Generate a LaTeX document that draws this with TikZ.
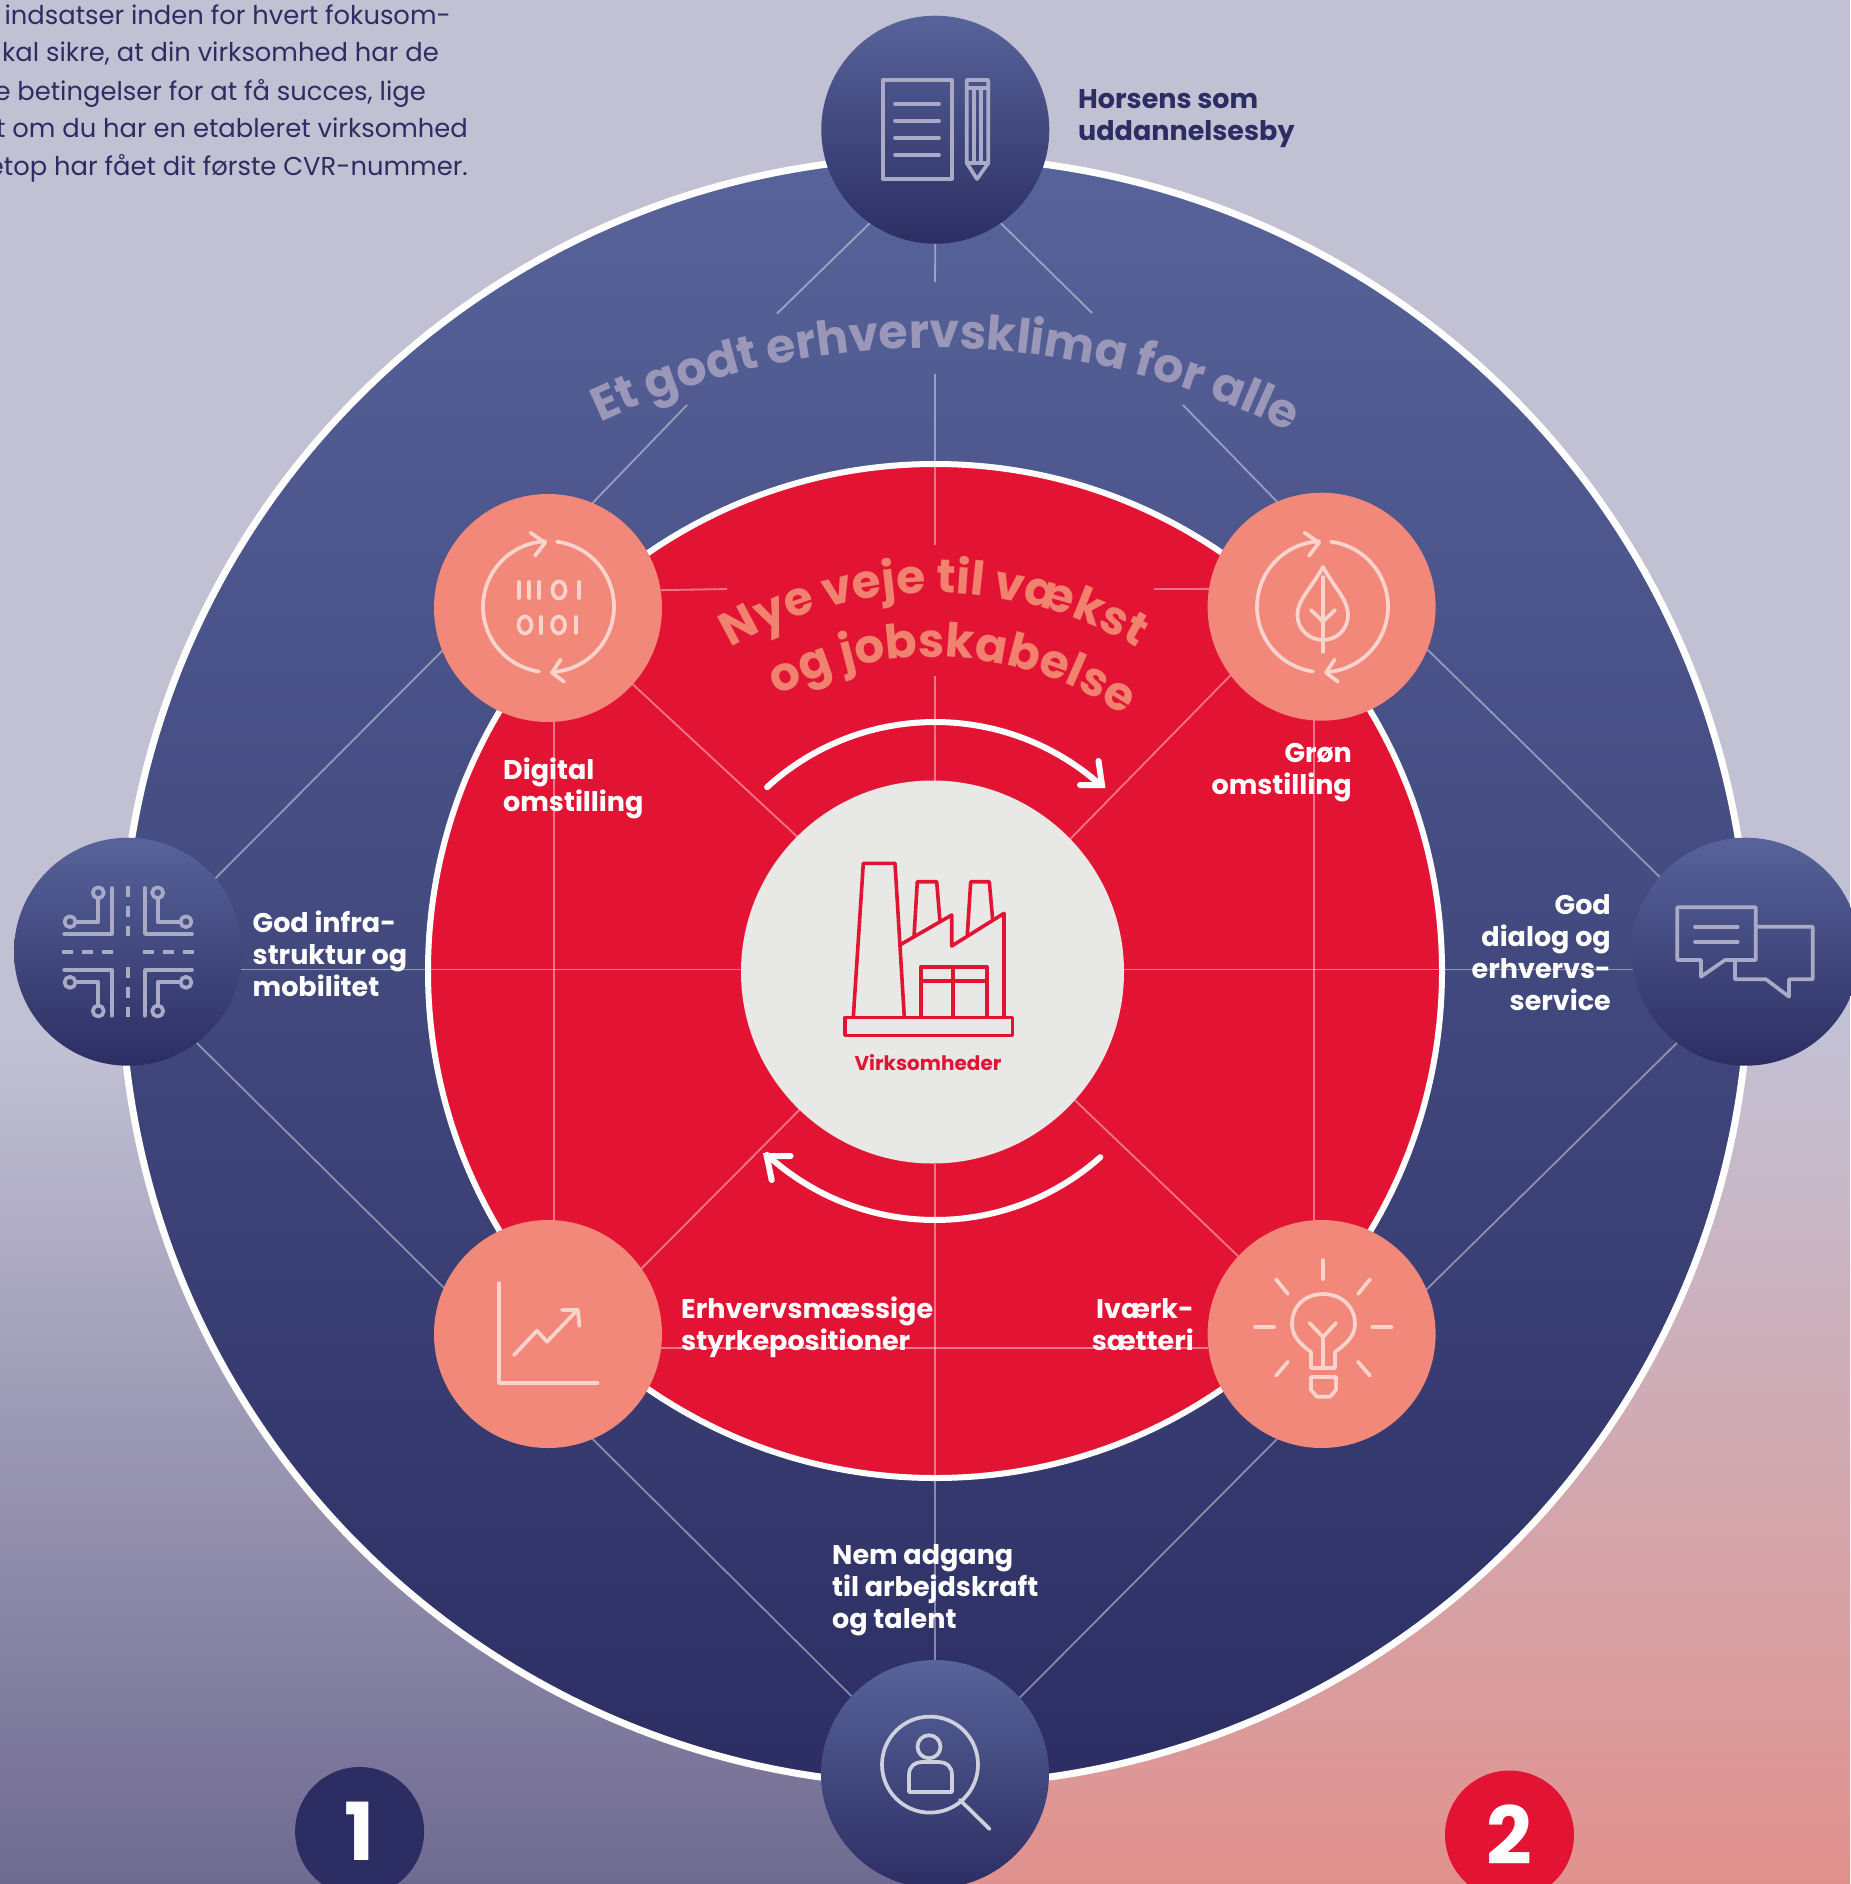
\documentclass[tikz,border=0pt]{standalone}
\usepackage{fontspec}
\setmainfont{Poppins}
\usetikzlibrary{decorations.text}
\definecolor{hubT}{HTML}{57639A}
\definecolor{hubB}{HTML}{2C2E63}
\definecolor{bgTop}{HTML}{C2C0D3}
\definecolor{bgLeft}{HTML}{6F6A90}
\definecolor{bgRight}{HTML}{E1918D}
\definecolor{coreRed}{HTML}{E31433}
\definecolor{salmon}{HTML}{F28879}
\definecolor{coreGrey}{HTML}{E8E8E6}
\definecolor{navyText}{HTML}{2C2E63}
\definecolor{titleA}{HTML}{9B97B8}
\definecolor{titleB}{HTML}{F1826F}
\definecolor{iconHub}{HTML}{A9ABC6}
\definecolor{iconSalmon}{HTML}{FAD3CC}
\definecolor{iconLens}{HTML}{CFD0DE}
\newcommand{\labfont}{\bfseries\fontsize{27}{32}\selectfont}
\newcommand{\bodyfont}{\fontsize{25.8}{37.5}\selectfont}
\pgfdeclarelayer{under}
\pgfsetlayers{under,main}
\tikzset{
  x=1pt,y=-1pt,
  hub/.style={circle,minimum size=228pt,inner sep=0pt,outer sep=0pt,top color=hubT,bottom color=hubB},
  peach/.style={circle,minimum size=228pt,inner sep=0pt,outer sep=0pt,fill=salmon},
  numdisc/.style={circle,minimum size=129pt,inner sep=0pt,outer sep=0pt,text=white,font=\bfseries\fontsize{80}{80}\selectfont},
  spoke/.style={draw=white,draw opacity=.42,line width=1.8pt},
  lableft/.style={anchor=base west,align=left,inner sep=0pt,text=white,font=\labfont},
  labright/.style={anchor=base east,align=right,inner sep=0pt,text=white,font=\labfont},
  bodyline/.style={anchor=base east,inner sep=0pt,text=navyText,font=\bodyfont},
  flow/.style={draw=white,line width=6pt,line cap=round,line join=miter},
  iconA/.style={draw=iconHub,line width=3.7pt,line join=round,line cap=round},
  iconB/.style={draw=iconSalmon,line width=3.7pt,line join=round,line cap=round},
  iconC/.style={draw=iconLens,line width=3.7pt,line join=round,line cap=round},
  iconF/.style={draw=coreRed,line width=3.6pt,line join=round,line cap=round},
}
\newcommand{\looparrows}{%
  \draw[iconB] (0,0) ++(261.6:65.5pt) arc[start angle=261.6,end angle=93,radius=65.5pt];
  \draw[iconB] (0,0) ++(82.5:65.5pt) arc[start angle=82.5,end angle=-87,radius=65.5pt];
  \draw[iconB] (-18,-74) -- (-3.5,-64) -- (-13.5,-51);
  \draw[iconB] (15.5,75) -- (3.5,66) -- (12,53);
}
\begin{document}
\begin{tikzpicture}
\useasboundingbox (0,0) rectangle (1850,1884);
\begin{pgfonlayer}{under}
  % background
  \fill[bgTop] (0,0) rectangle (1850,1041);
  \shade[top color=bgTop,bottom color=bgLeft] (0,1040) rectangle (936,1884);
  \shade[top color=bgTop,bottom color=bgRight] (935,1040) rectangle (1850,1884);
  % discs
  \node[circle,minimum size=1628pt,inner sep=0pt,outer sep=0pt,top color=hubT,bottom color=hubB,draw=white,line width=7pt] (outer) at (935,971) {};
  \node[circle,minimum size=1014pt,inner sep=0pt,outer sep=0pt,fill=coreRed,draw=white,line width=6pt] (inner) at (935,971) {};
\end{pgfonlayer}

% hubs
\node[hub] (hubTop) at (935.3,129.7) {};
\node[hub] (hubLeft) at (128,951.7) {};
\node[hub] (hubRight) at (1745.7,951.7) {};
\node[hub] (hubBottom) at (935,1774) {};
% peach discs
\node[peach] (dig) at (548,608) {};
\node[peach] (grn) at (1321.6,606.7) {};
\node[peach] (vek) at (548,1334) {};
\node[peach] (ivk) at (1321.6,1334) {};
% centre
\node[circle,minimum size=383pt,inner sep=0pt,outer sep=0pt,fill=coreGrey] (centre) at (932.5,972) {};

\begin{pgfonlayer}{under}
  % free ends of the web
  \coordinate (topA) at (935,282);
  \coordinate (topB) at (935,374);
  \coordinate (topC) at (935,545);
  \coordinate (topD) at (935,676);
  \coordinate (topE) at (935,781);
  \coordinate (upL) at (777,313.6);
  \coordinate (upR) at (1092,313);
  \coordinate (digUp) at (687,405);
  \coordinate (grnUp) at (1183,405);
  \coordinate (digStub) at (727,589);
  \coordinate (grnStub) at (1154,589);
  \draw[spoke] (hubTop.south) -- (topA);
  \draw[spoke] (topB) -- (topC);
  \draw[spoke] (topD) -- (topE);
  \draw[spoke] (hubTop.-125) -- (upL);
  \draw[spoke] (hubTop.-55) -- (upR);
  \draw[spoke] (dig.67.8) -- (digUp);
  \draw[spoke] (grn.113) -- (grnUp);
  \draw[spoke] (hubLeft.40.8) -- (dig.-158.4);
  \draw[spoke] (hubRight.139.9) -- (grn.-22.3);
  \draw[spoke] (hubLeft.-53.2) -- (vek.156.6);
  \draw[spoke] (hubRight.-127.8) -- (ivk.23.1);
  \draw[spoke] (vek.-67.1) -- (hubBottom.137.1);
  \draw[spoke] (ivk.-113.2) -- (hubBottom.42.9);
  \draw[spoke] (dig.-42.4) -- (centre.135.5);
  \draw[spoke] (grn.-143) -- (centre.44.5);
  \draw[spoke] (vek.35.8) -- (centre.-134.3);
  \draw[spoke] (ivk.137) -- (centre.-42);
  \draw[spoke] (hubBottom.north) -- (hubBottom.north |- centre.south);
  \draw[spoke] (hubLeft.-9.9) -- (hubLeft.-9.9 -| centre.west);
  \draw[spoke] (hubRight.189.9) -- (hubRight.189.9 -| centre.east);
  \draw[spoke] (dig.-87) -- (vek.87);
  \draw[spoke] (grn.-94.3) -- (ivk.94.3);
  \draw[spoke] (dig.9.6) -- (digStub);
  \draw[spoke] (grn.171.1) -- (grnStub);
  \draw[spoke] (vek.-7) -- (ivk.187);
\end{pgfonlayer}

% curved titles
\coordinate (arcOne) at (935,1142);
\coordinate (arcTwo) at (934,993);
\path[decorate,decoration={text along path,text align=center,
  text={|\bfseries\fontsize{47.5}{50}\selectfont\color{titleA}|Et godt erhvervsklima for alle}}]
  (arcOne) ++(119.2:794pt) arc[start angle=119.2,end angle=59.2,radius=794pt];
\path[decorate,decoration={text along path,text align=center,
  text={|\bfseries\fontsize{47}{50}\selectfont\color{titleB}|Nye veje til vækst}}]
  (arcTwo) ++(130:400pt) arc[start angle=130,end angle=50,radius=400pt];
\path[decorate,decoration={text along path,text align=center,
  text={|\bfseries\fontsize{47}{50}\selectfont\color{titleB}|og jobskabelse}}]
  (arcTwo) ++(126.7:336pt) arc[start angle=126.7,end angle=46.7,radius=336pt];

% rotating arrows
\coordinate (flowC) at (935,971);
\draw[flow] (flowC) ++(132.4:249pt) arc[start angle=132.4,end angle=48.4,radius=249pt];
\draw[flow] (1098.5,761) -- (1102,785) -- (1080,785);
\draw[flow] (flowC) ++(-48.4:249pt) arc[start angle=-48.4,end angle=-132.4,radius=249pt];
\draw[flow] (790.7,1156) -- (766.7,1156) -- (771.7,1180);

% labels
\node[lableft] (lHorsens) at (1078,140) {\textcolor{navyText}{Horsens som}\\\textcolor{navyText}{uddannelsesby}};
\node[lableft] (lInfra) at (252.5,996) {God infra-\\struktur og\\mobilitet};
\node[labright] (lDialog) at (1611,1010) {God\\dialog og\\erhvervs-\\service};
\node[lableft] (lDigital) at (503,811) {Digital\\omstilling};
\node[labright] (lGron) at (1352,794) {Grøn\\omstilling};
\node[lableft] (lErhverv) at (681,1350) {Erhvervsmæssige\\styrkepositioner};
\node[labright] (lIvaerk) at (1194,1350) {Iværk-\\sætteri};
\node[lableft] (lNem) at (832,1628) {Nem adgang\\til arbejdskraft\\og talent};
\node[anchor=base,inner sep=0pt,text=coreRed,font=\bfseries\fontsize{20}{24}\selectfont] (lVirk) at (928,1070) {Virksomheder};

% intro text, cut by the page edge
\node[bodyline] (b1) at (451,25) {indsatser inden for hvert fokusom-};
\node[bodyline] (b2) at (439,62) {kal sikre, at din virksomhed har de};
\node[bodyline] (b3) at (426,100) {e betingelser for at få succes, lige};
\node[bodyline] (b4) at (468,137) {t om du har en etableret virksomhed};
\node[bodyline] (b5) at (468,175) {etop har fået dit første CVR-nummer.};

% numbers
\node[numdisc,fill=hubB] (one) at (359.6,1831.5) {1};
\node[numdisc,fill=coreRed] (two) at (1509.5,1835) {2};

% icon: document and pencil
\draw[iconA,line cap=butt] (882.7,80) rectangle (951.7,179);
\foreach \yy in {103.7,120.7,138,155} \draw[iconA] (895,\yy) -- (939,\yy);
\draw[iconA] (966.7,80) -- (988.3,80) -- (988.3,163) -- (977,179) -- (966.7,163) -- cycle;
\draw[iconA] (966.7,88.3) -- (988.3,88.3);
\draw[iconA] (966.7,163) -- (988.3,163);
\draw[iconA] (973.7,88.3) -- (973.7,163);
\draw[iconA] (981,88.3) -- (981,163);

% icon: crossing
\draw[iconA] (111.7,888) -- (111.7,934) -- (64.3,934);
\draw[iconA] (145,888) -- (145,934) -- (192,934);
\draw[iconA] (64.3,970) -- (111.7,970) -- (111.7,1015.7);
\draw[iconA] (192,970) -- (145,970) -- (145,1015.7);
\draw[iconA] (98.3,898) -- (98.3,921.7) -- (76,921.7);
\draw[iconA] (157.7,898) -- (157.7,921.7) -- (180,921.7);
\draw[iconA] (76,982.3) -- (98.3,982.3) -- (98.3,1005);
\draw[iconA] (180,982.3) -- (157.7,982.3) -- (157.7,1005);
\foreach \cx/\cy in {98.3/892.7,70/921.7,157.7/892.7,186/921.7,70/982.3,98.3/1011,186/982.3,157.7/1011}
  \draw[iconA] (\cx,\cy) circle[radius=5.5pt];
\draw[iconA,line cap=butt,dash pattern=on 11pt off 9pt] (128,885.7) -- (128,936);
\draw[iconA,line cap=butt,dash pattern=on 11pt off 9pt] (128,966.7) -- (128,1017);
\draw[iconA,line cap=butt,dash pattern=on 11pt off 9pt] (61.7,951.7) -- (113,951.7);
\draw[iconA,line cap=butt,dash pattern=on 11pt off 9pt] (143,951.7) -- (194.3,951.7);

% icon: speech bubbles
\draw[iconA] (1677.3,907.3) -- (1755.7,907.3) -- (1755.7,960) -- (1725,960) -- (1701,976.7) -- (1701,960) -- (1677.3,960) -- cycle;
\draw[iconA] (1695,926.7) -- (1737.7,926.7);
\draw[iconA] (1695,941.7) -- (1737.7,941.7);
\draw[iconA] (1755.7,926.7) -- (1812.7,926.7) -- (1812.7,979.3) -- (1789,979.3) -- (1789,996.7) -- (1766,979.3) -- (1735,979.3) -- (1735,960);

% icon: magnifier with person
\draw[iconC] (930,1764.6) circle[radius=48pt];
\draw[iconC] (929,1746.7) circle[radius=11.5pt];
\draw[iconC] (909,1792) -- (909,1775) .. controls (909,1766) and (915,1762) .. (922,1762) -- (939,1762) .. controls (946,1762) and (952,1766) .. (952,1775) -- (952,1792) -- cycle;
\draw[iconC] (960,1800) -- (989.6,1829);

% icon: binary
\begin{scope}[shift={(548.5,606.7)}]\looparrows\end{scope}
\foreach \xx in {519,529,539,579} \draw[iconB] (\xx,582) -- (\xx,598);
\draw[iconB] (559,590) circle[x radius=6.5pt,y radius=8.5pt];
\draw[iconB] (525,625) circle[x radius=6.5pt,y radius=8.5pt];
\draw[iconB] (558.6,625) circle[x radius=6.5pt,y radius=8.5pt];
\foreach \xx in {541,576} \draw[iconB] (\xx,617) -- (\xx,633);

% icon: leaf
\begin{scope}[shift={(1322.5,606.7)}]\looparrows\end{scope}
\draw[iconB] (1323,567) .. controls (1310,590) and (1297.4,600) .. (1297.4,615) .. controls (1297.4,630) and (1310,640) .. (1323,640) .. controls (1336,640) and (1348,630) .. (1348,615) .. controls (1348,600) and (1336,590) .. (1323,567) -- cycle;
\draw[iconB] (1323,577) -- (1323,651.7);
\draw[iconB] (1311,610) -- (1323,621.7) -- (1335,610);

% icon: chart
\draw[iconB] (499,1283) -- (499,1383) -- (597.5,1383);
\draw[iconB] (514,1355) -- (537,1330.7) -- (547,1341.7) -- (577.4,1310);
\draw[iconB] (562,1310) -- (578,1310) -- (579.4,1326);

% icon: bulb
\draw[iconB] (1323,1260) -- (1323,1279);
\draw[iconB] (1276,1279.3) -- (1288,1294);
\draw[iconB] (1370,1279.3) -- (1358,1294);
\draw[iconB] (1255,1327.3) -- (1274,1327.3);
\draw[iconB] (1372.5,1327.3) -- (1391.5,1327.3);
\draw[iconB] (1288,1361.7) -- (1276,1375.7);
\draw[iconB] (1358,1361.7) -- (1370,1375.7);
\draw[iconB] (1311,1368) -- (1311,1352) .. controls (1300,1344) and (1292,1336) .. (1292,1324) .. controls (1292,1306) and (1305,1294) .. (1323,1294) .. controls (1341,1294) and (1355,1306) .. (1355,1324) .. controls (1355,1336) and (1346,1344) .. (1335,1352) -- (1335,1368) -- cycle;
\draw[iconB] (1309.5,1323) -- (1323,1337) -- (1336,1323);
\draw[iconB] (1323,1337) -- (1323,1368);
\draw[iconB] (1311,1377) -- (1336,1377) -- (1336,1390) -- (1330,1396.7) -- (1317,1396.7) -- (1311,1390) -- cycle;

% icon: factory
\draw[iconF] (845,1017.3) rectangle (1012.3,1035.3);
\draw[iconF] (853.3,1017.3) -- (863.3,863.3) -- (895,863.3) -- (904.3,1017.3);
\draw[iconF] (901,944.3) -- (951.7,915) -- (951.7,946) -- (1004,913.3) -- (1004,1017.3);
\draw[iconF] (914,936.7) -- (917.3,881.7) -- (936.7,881.7) -- (940,921.7);
\draw[iconF] (967.3,935) -- (970.7,881.7) -- (989.3,881.7) -- (992.7,920);
\draw[iconF] (921,1017.3) -- (921,966.7) -- (986.7,966.7) -- (986.7,1017.3);
\draw[iconF] (952.7,966.7) -- (952.7,1017.3);
\draw[iconF] (921,981) -- (986.7,981);
\end{tikzpicture}
\end{document}
